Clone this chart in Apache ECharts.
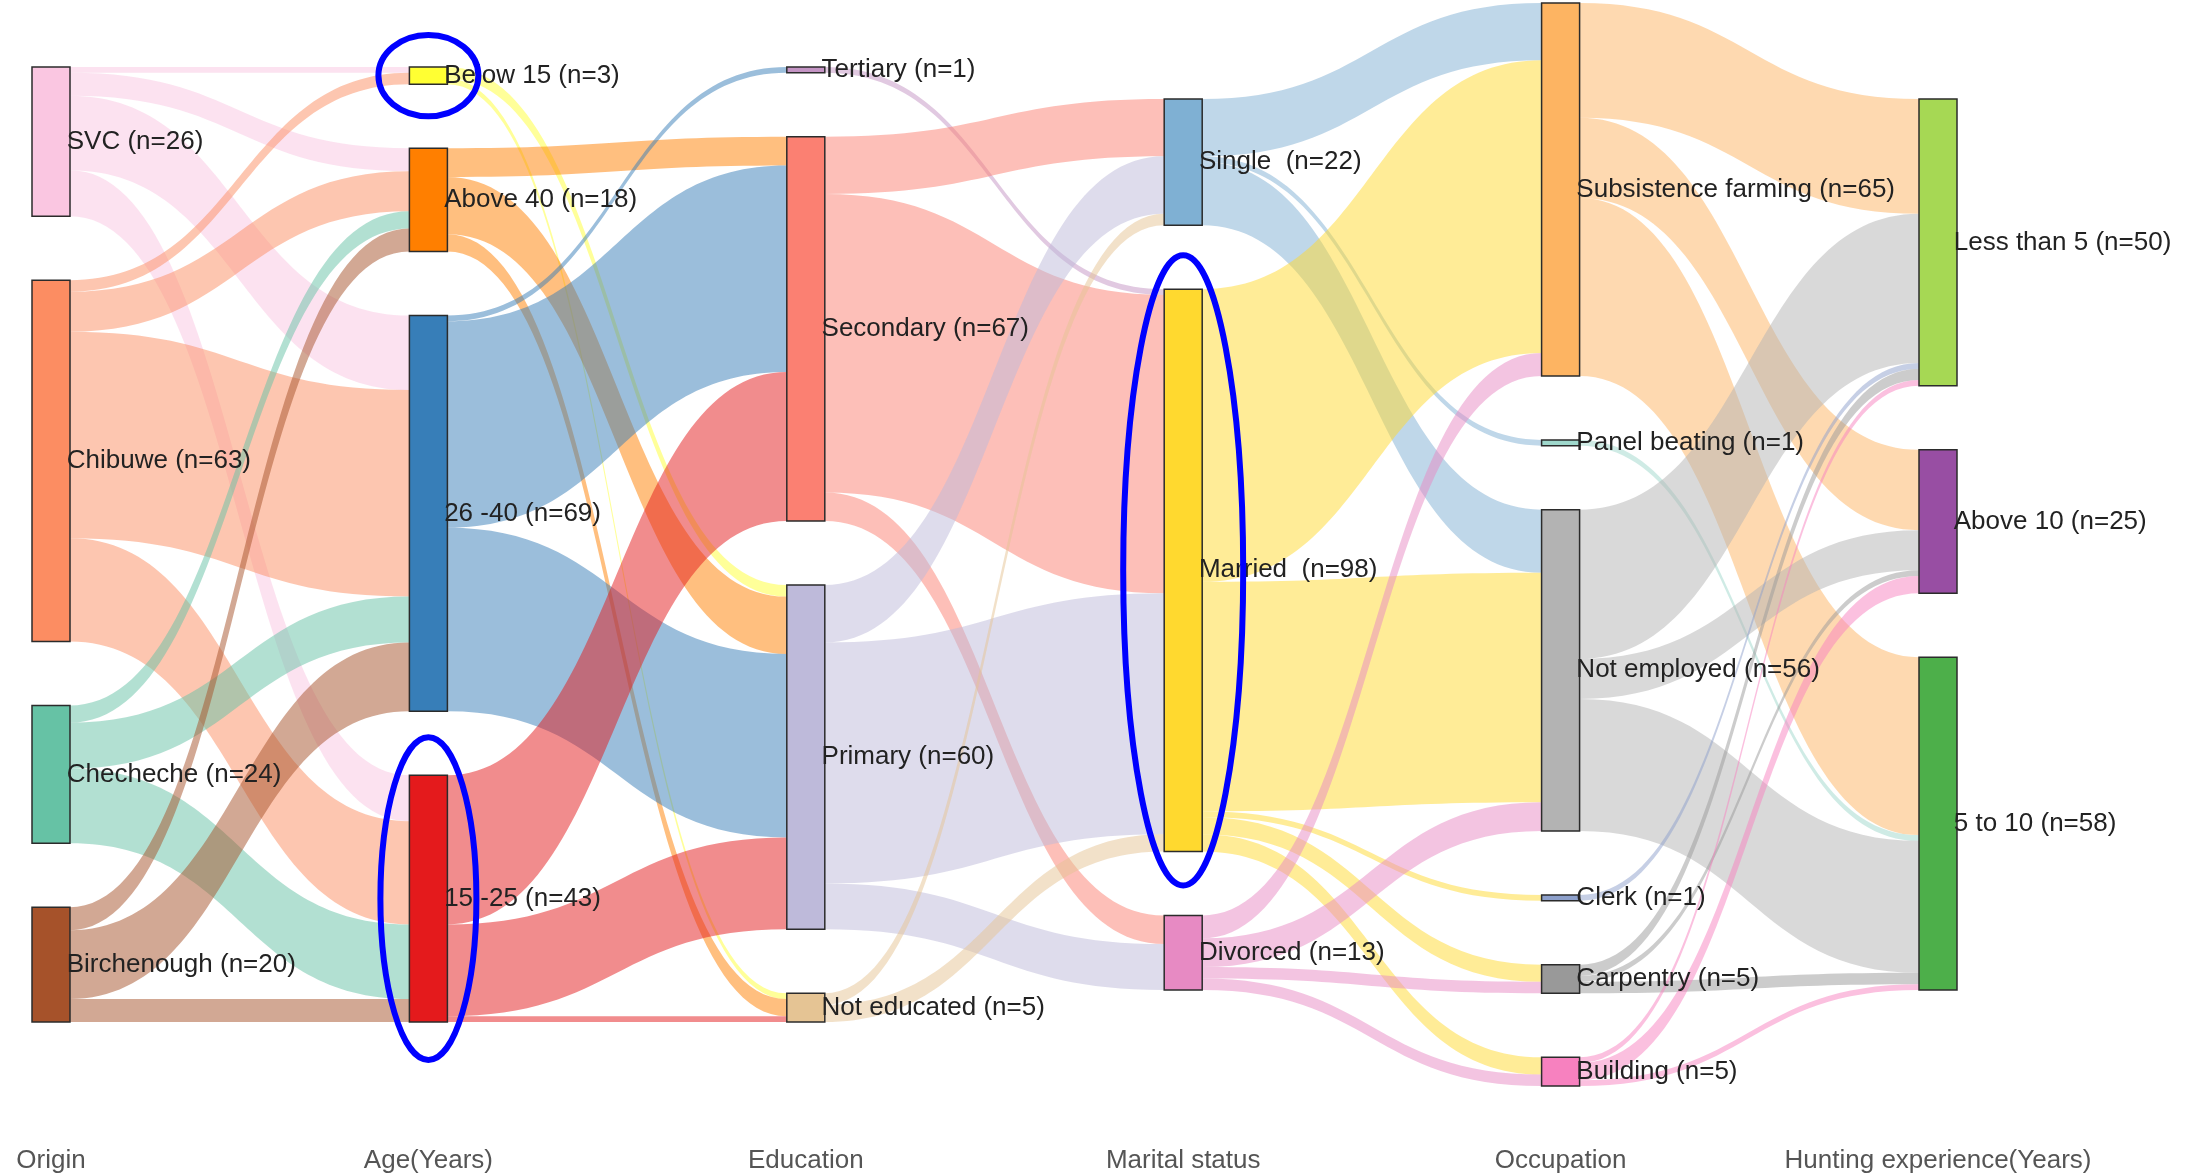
<!DOCTYPE html>
<html>
<head>
<meta charset="utf-8">
<title>Hunters profile sankey</title>
<script src="https://cdn.jsdelivr.net/npm/echarts@6/dist/echarts.min.js"></script>
<style>
  html, body { margin: 0; padding: 0; background: #ffffff; }
  #chart { width: 2196px; height: 1175px; }
</style>
</head>
<body>
<div id="chart"></div>
<script>
// column titles under the diagram
const stages = ['Origin', 'Age(Years)', 'Education', 'Marital status', 'Occupation', 'Hunting experience(Years)']

// nodes of each column, top to bottom, with their counts
const origin = ['SVC', 'Chibuwe', 'Checheche', 'Birchenough']
const originN = [26, 63, 24, 20]
const age = ['Below 15', 'Above 40', '26 -40', '15 -25']
const ageN = [3, 18, 69, 43]
const education = ['Tertiary', 'Secondary', 'Primary', 'Not educated']
const educationN = [1, 67, 60, 5]
const marital = ['Single ', 'Married ', 'Divorced']
const maritalN = [22, 98, 13]
const occupation = ['Subsistence farming', 'Panel beating', 'Not employed', 'Clerk', 'Carpentry', 'Building']
const occupationN = [65, 1, 56, 1, 5, 5]
const hunting = ['Less than 5', 'Above 10', '5 to 10']
const huntingN = [50, 25, 58]

// flows between neighbouring columns (rows = source, cols = target)
const originToAge = [
  [1, 4, 13, 8],
  [2, 7, 36, 18],
  [0, 3, 8, 13],
  [0, 4, 12, 4]
]
const ageToEducation = [
  [0, 0, 2, 1],
  [0, 5, 10, 3],
  [1, 36, 32, 0],
  [0, 26, 16, 1]
]
const educationToMarital = [
  [0, 1, 0],
  [10, 52, 5],
  [10, 42, 8],
  [2, 3, 0]
]
const maritalToOccupation = [
  [10, 1, 11, 0, 0, 0],
  [51, 0, 40, 1, 3, 3],
  [4, 0, 5, 0, 2, 2]
]
const occupationToHunting = [
  [20, 14, 31],
  [0, 0, 1],
  [26, 7, 23],
  [1, 0, 0],
  [2, 1, 2],
  [1, 3, 1]
]

// nodes circled in blue in the figure (extra room around each node)
const circled = ['Below 15', '15 -25', 'Married ']
const ringPadX = [31, 29, 41]
const ringPadY = [32, 38, 34]

const palette = {
  'SVC': '#fac6e1', 'Chibuwe': '#fc8d62', 'Checheche': '#66c2a5', 'Birchenough': '#a6522a',
  'Below 15': '#ffff33', 'Above 40': '#ff7f00', '26 -40': '#377eb8', '15 -25': '#e41a1c',
  'Tertiary': '#c494c4', 'Secondary': '#fb8072', 'Primary': '#bebada', 'Not educated': '#e5c494',
  'Single ': '#7fb0d3', 'Married ': '#ffd92f', 'Divorced': '#e78ac3',
  'Subsistence farming': '#fdb462', 'Panel beating': '#9fd8cc', 'Not employed': '#b3b3b3',
  'Clerk': '#8da0cb', 'Carpentry': '#999999', 'Building': '#f781bf',
  'Less than 5': '#a6d854', 'Above 10': '#984ea3', '5 to 10': '#4daf4a'
}

const columns = [[origin, originN], [age, ageN], [education, educationN], [marital, maritalN], [occupation, occupationN], [hunting, huntingN]]
const flows = [originToAge, ageToEducation, educationToMarital, maritalToOccupation, occupationToHunting]

const counts = {}
const nodeData = []
columns.forEach(([names, ns]) => {
  names.forEach((name, i) => {
    counts[name] = ns[i]
    nodeData.push({ name: name, value: ns[i], itemStyle: { color: palette[name] } })
  })
})

const linkData = []
flows.forEach((matrix, c) => {
  const from = columns[c][0]
  const to = columns[c + 1][0]
  matrix.forEach((row, i) => {
    row.forEach((v, j) => {
      if (v > 0) linkData.push({ source: from[i], target: to[j], value: v })
    })
  })
})

const box = { left: 32, right: 239, top: 3, bottom: 89 }

const chart = echarts.init(document.getElementById('chart'))
const option = {
  animation: false,
  backgroundColor: '#ffffff',
  grid: { left: 51, right: 258, top: 0, bottom: 30 },
  xAxis: {
    type: 'category',
    data: stages,
    boundaryGap: false,
    axisLine: { show: false },
    axisTick: { show: false },
    axisLabel: {
      interval: 0,
      hideOverlap: false,
      color: '#555555',
      fontSize: 26,
      fontFamily: 'Liberation Sans',
      margin: 3
    }
  },
  yAxis: { type: 'value', show: false },
  series: [{
    type: 'sankey',
    left: box.left,
    right: box.right,
    top: box.top,
    bottom: box.bottom,
    nodeWidth: 38,
    nodeGap: 64,
    layoutIterations: 0,
    draggable: false,
    emphasis: { disabled: true },
    data: nodeData,
    links: linkData,
    itemStyle: { borderColor: '#2b2b2b', borderWidth: 1.5 },
    lineStyle: { color: 'source', opacity: 0.5, curveness: 0.5 },
    label: {
      position: 'right',
      distance: -4,
      color: '#222222',
      fontSize: 26,
      fontFamily: 'Liberation Sans',
      formatter: p => p.name + ' (n=' + counts[p.name] + ')'
    }
  }]
}
chart.setOption(option)

// centre every column vertically like the original figure, using the library's own node layout
const seriesModel = chart.getModel().getSeriesByIndex(0)
const graph = seriesModel.getGraph()
const rect = seriesModel.layoutInfo || {
  x: box.left, y: box.top,
  width: chart.getWidth() - box.left - box.right,
  height: chart.getHeight() - box.top - box.bottom
}
const byColumn = {}
graph.eachNode(node => {
  const key = Math.round(node.getLayout().x)
  ;(byColumn[key] = byColumn[key] || []).push(node)
})
Object.values(byColumn).forEach(list => {
  const top = Math.min(...list.map(n => n.getLayout().y))
  const bottom = Math.max(...list.map(n => n.getLayout().y + n.getLayout().dy))
  const shift = (rect.height - (bottom - top)) / 2 - top
  list.forEach(n => {
    nodeData[n.dataIndex].localY = (n.getLayout().y + shift) / rect.height
  })
})

// blue annotation rings around the highlighted nodes
const rings = []
graph.eachNode(node => {
  const k = circled.indexOf(node.name || node.id)
  if (k < 0) return
  const l = node.getLayout()
  const y = nodeData[node.dataIndex].localY * rect.height
  rings.push({
    type: 'ellipse',
    z: 100,
    silent: true,
    shape: {
      cx: rect.x + l.x + l.dx / 2,
      cy: rect.y + y + l.dy / 2,
      rx: l.dx / 2 + ringPadX[k],
      ry: l.dy / 2 + ringPadY[k]
    },
    style: { fill: 'none', stroke: '#0000ff', lineWidth: 6 }
  })
})

option.series[0].data = nodeData
option.graphic = rings
chart.setOption(option, true)

window.addEventListener('resize', () => chart.resize())
</script>
</body>
</html>
